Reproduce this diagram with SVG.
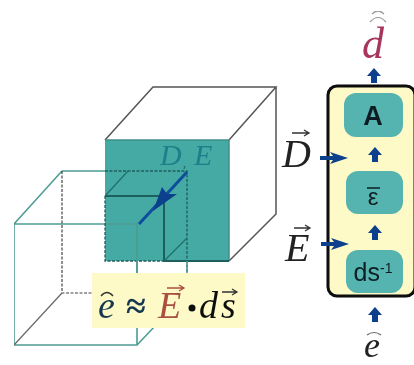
<svg xmlns="http://www.w3.org/2000/svg" width="414" height="365" viewBox="0 0 414 365">
<style>
.k{fill:none;stroke:#555;stroke-width:1.5}
.t{fill:none;stroke:#4f9c94;stroke-width:1.6}
.dk{fill:none;stroke:#1f5f5c;stroke-width:2}
.dd{fill:none;stroke:#1f5f5c;stroke-width:1.3;stroke-dasharray:3 1.5}
.gd{fill:none;stroke:#444;stroke-width:1.2;stroke-dasharray:3 1.5}
.m{font-family:"Liberation Serif",serif;font-style:italic}
.a{font-family:"Liberation Sans",sans-serif;text-anchor:middle;fill:#0c1f22}
.ov{fill:none;stroke:#333;stroke-width:1.3}
.blk{fill:#55b3b0}
.ar{fill:#0b3f8c}
</style>
<defs>
<path id="up" d="M0 -8L7 0H3V7H-3V0H-7Z" class="ar"/>
<path id="rt" d="M-14 -2H-1L-4 -6L14 0L-4 6L-1 2H-14Z" class="ar"/>
<filter id="soft" x="0" y="0" width="100%" height="100%"><feGaussianBlur stdDeviation="0.45"/></filter>
</defs>
<g filter="url(#soft)">
<g id="back-cube">
<rect x="105" y="140" width="124" height="121" fill="#45a9a4"/>
<path class="k" d="M105 140L153 87H276L229 140M276 87V214L229 261"/>
<path d="M105 140H229V261" fill="none" stroke="#3f8f88" stroke-width="1.5"/>
<text class="m" x="160" y="165" font-size="30" fill="#1d7f8a">D</text>
<text class="m" x="194" y="165" font-size="30" fill="#1d7f8a">E</text>
<text class="m" x="183" y="167" font-size="12" fill="#1d5f64">,</text>
</g>
<g id="front-cube">
<path class="t" d="M62 171L14 224V345H137V224H14M137 224H105M62 171H105M137 345L156 325"/>
<path class="gd" d="M62 171V293H92"/>
<path d="M62 293L14 345" fill="none" stroke="#666" stroke-width="1.2"/>
<path class="dd" d="M105 171H187V273M105 196V261H164"/>
<path class="dk" d="M105 196H164V261H229"/>
<path d="M105 196L128 171M164 261L187 238" fill="none" stroke="#1f6f6a" stroke-width="1.2"/>
<path class="t" d="M137 224V273M187 261V273"/>
</g>
<g id="connectors">
<path d="M187 172L139 224" fill="none" stroke="#0b4f9c" stroke-width="3"/>
<path d="M153 211L162 187L167 194L177 194Z" class="ar"/>
</g>
<g id="formula">
<rect x="92" y="273" width="153" height="55" fill="#fdfac8"/>
<text class="m" x="98" y="318" font-size="38" fill="#17394f">e</text>
<path class="ov" d="M101 296Q107 289 113 296"/>
<text x="126" y="318" font-size="36" font-weight="bold" font-family="Liberation Serif,serif" fill="#17394f">≈</text>
<text class="m" x="158" y="318" font-size="38" fill="#a84f42">E</text>
<path d="M167 288H183M179 285L184 288L179 291" fill="none" stroke="#a84f42" stroke-width="1.3"/>
<circle cx="192" cy="308" r="3.5" fill="#111"/>
<text class="m" x="199" y="318" font-size="38" fill="#111">d</text>
<text class="m" x="221" y="318" font-size="38" fill="#111">s</text>
<path class="ov" d="M222 292H236M232 289L237 292L232 295"/>
</g>
<g id="panel">
<rect x="328" y="86" width="87" height="210" rx="9" fill="#fdfac8" stroke="#0a0a0a" stroke-width="3"/>
</g>
<g id="node-a">
<rect class="blk" x="344" y="93" width="59" height="44" rx="12"/>
<text class="a" x="373" y="125" font-size="27" font-weight="bold">A</text>
</g>
<g id="node-eps">
<rect class="blk" x="346" y="171" width="57" height="43" rx="12"/>
<text class="a" x="373" y="205" font-size="24">ε</text>
<path d="M367 188H380" stroke="#0c1f22" stroke-width="1.5"/>
</g>
<g id="node-ds">
<rect class="blk" x="346" y="250" width="57" height="43" rx="12"/>
<text class="a" x="373" y="281" font-size="25">ds<tspan font-size="14" dy="-8">-1</tspan></text>
</g>
<g id="flow-arrows">
<use href="#up" x="374" y="76"/>
<use href="#up" x="375" y="155"/>
<use href="#up" x="375" y="233"/>
<use href="#up" x="375" y="315"/>
<use href="#rt" x="334" y="158"/>
<use href="#rt" x="335" y="244"/>
</g>
<g id="label-d">
<text class="m" x="362" y="58" font-size="44" fill="#a8365a">d</text>
<path d="M370 22Q378 13 386 22M372 14Q378 8 384 14" fill="none" stroke="#999" stroke-width="1.2"/>
</g>
<g id="label-D">
<text class="m" x="282" y="167" font-size="40" fill="#222">D</text>
<path class="ov" d="M292 133H308M304 130L309 133L304 136"/>
</g>
<g id="label-E">
<text class="m" x="285" y="261" font-size="40" fill="#222">E</text>
<path class="ov" d="M294 228H309M305 225L310 228L305 231"/>
</g>
<g id="label-e">
<text class="m" x="364" y="357" font-size="36" fill="#222">e</text>
<path d="M367 335Q374 330 381 335" fill="none" stroke="#666" stroke-width="1.2"/>
</g>
</g>
</svg>
